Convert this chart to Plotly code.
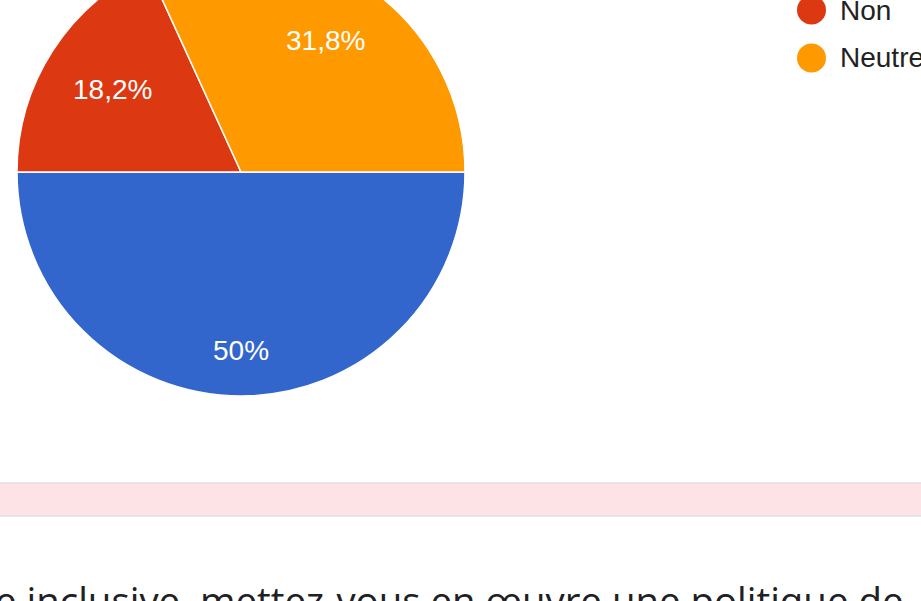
import math
import plotly.graph_objects as go

# ---- data ----
labels = ["Oui", "Non", "Neutre"]
counts = [11, 4, 7]
colors = ["#3366cc", "#dc3912", "#ff9900"]
question_text = "e inclusive, mettez-vous en œuvre une politique de"

# ---- layout constants ----
W, H = 921, 653   # top 52px are scrolled out of view
TOP_CUT = 52
PIE_L, PIE_R, PIE_T, PIE_B = 17, 465, 0, 448
label_radius = [0.795, 0.68, 0.70]   # where Google-style slice labels sit
START_DEG = 90                        # first slice starts at 3 o'clock

total = sum(counts)
def fmt(v):
    s = f"{v / total * 100:.1f}".rstrip("0").rstrip(".")
    return s.replace(".", ",") + "%"
texts = [fmt(v) for v in counts]

def px_x(x):
    return x / W
def px_y(y):
    return 1 - y / H

fig = go.Figure()
fig.add_trace(go.Pie(
    labels=labels,
    values=counts,
    text=texts,
    textinfo="none",
    sort=False,
    direction="clockwise",
    rotation=START_DEG,
    marker=dict(colors=colors, line=dict(color="white", width=1.5)),
    domain=dict(x=[px_x(PIE_L), px_x(PIE_R)], y=[px_y(PIE_B), px_y(PIE_T)]),
    showlegend=False,
    hovertemplate="%{label}: %{text}<extra></extra>",
))

shapes = []
annotations = []

# slice labels placed along each slice's bisector
cx, cy0 = (PIE_L + PIE_R) / 2, (PIE_T + PIE_B) / 2
r = (PIE_R - PIE_L) / 2
cum = 0
for v, t, rf in zip(counts, texts, label_radius):
    mid = START_DEG + (cum + v / 2) / total * 360
    cum += v
    a = math.radians(mid)
    lx = cx + rf * r * math.sin(a)
    ly = cy0 - rf * r * math.cos(a)
    annotations.append(dict(text=t, xref="paper", yref="paper",
                            x=px_x(lx), y=px_y(ly), xanchor="center", yanchor="middle",
                            showarrow=False,
                            font=dict(family="Liberation Sans, Arial", size=28, color="#ffffff")))

# legend (circles + labels)
leg_x, leg_y0, leg_dy, rad = 811.5, 14, 48, 14.5
for i, (lab, col) in enumerate(zip(labels, colors)):
    ly = leg_y0 + i * leg_dy
    shapes.append(dict(type="circle", xref="paper", yref="paper",
                       x0=px_x(leg_x - rad), x1=px_x(leg_x + rad),
                       y0=px_y(ly + rad), y1=px_y(ly - rad),
                       fillcolor=col, line=dict(width=0)))
    annotations.append(dict(text=lab, xref="paper", yref="paper",
                            x=px_x(838), y=px_y(ly), xanchor="left", yanchor="middle",
                            showarrow=False,
                            font=dict(family="Liberation Sans, Arial", size=28, color="#222222")))

# pink band
shapes.append(dict(type="rect", xref="paper", yref="paper",
                   x0=-0.01, x1=1.01, y0=px_y(516 + TOP_CUT), y1=px_y(483 + TOP_CUT),
                   fillcolor="#fde3e5", line=dict(color="#dde0e4", width=1.5)))

# question text (cut off)
annotations.append(dict(text=question_text, xref="paper", yref="paper",
                        x=px_x(-7), y=px_y(572 + TOP_CUT), xanchor="left", yanchor="top",
                        showarrow=False,
                        font=dict(family="Open Sans", size=38.4, color="#202124")))

fig.update_layout(
    width=W, height=H,
    margin=dict(l=0, r=0, t=0, b=0),
    paper_bgcolor="white", plot_bgcolor="white",
    shapes=shapes, annotations=annotations,
    separators=", ",
)

post = ("document.body.style.margin='0';document.body.style.overflow='hidden';"
        "document.getElementById('{plot_id}').style.marginTop='-%dpx';" % TOP_CUT)
fig.write_html("out.html", post_script=post)
